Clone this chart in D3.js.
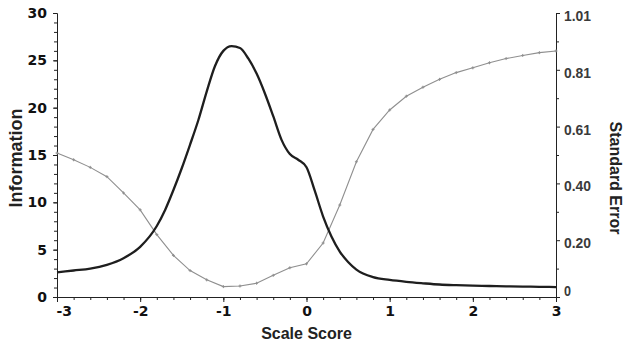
<!DOCTYPE html>
<html>
<head>
<meta charset="utf-8">
<script src="https://cdn.jsdelivr.net/npm/d3@7"></script>
<style>
  body { margin: 0; background: #fff; }
  svg { display: block; }
</style>
</head>
<body>
<div id="chart"></div>
<script>
// test information curve (left axis)
var infoTheta = [-3, -2.8, -2.6, -2.4, -2.2, -2, -1.8, -1.7, -1.6, -1.5, -1.4, -1.3, -1.2, -1.1, -1, -0.9, -0.8, -0.7, -0.6, -0.5, -0.4, -0.3, -0.2, -0.1, 0, 0.1, 0.2, 0.3, 0.4, 0.5, 0.6, 0.8, 1, 1.2, 1.4, 1.6, 1.8, 2, 2.2, 2.4, 2.6, 2.8, 3];
var infoValues = [2.6, 2.8, 3.0, 3.4, 4.1, 5.3, 7.5, 9.2, 11.3, 13.6, 16.1, 18.7, 21.7, 24.4, 26.0, 26.5, 26.3, 25.2, 23.6, 21.5, 19.1, 16.6, 15.1, 14.5, 13.7, 11.2, 8.5, 6.4, 4.8, 3.7, 2.9, 2.1, 1.8, 1.6, 1.45, 1.32, 1.25, 1.2, 1.16, 1.12, 1.1, 1.08, 1.05];

// standard error curve (right axis)
var seTheta = [-3, -2.8, -2.6, -2.4, -2.2, -2, -1.8, -1.6, -1.4, -1.2, -1, -0.8, -0.6, -0.4, -0.2, 0, 0.2, 0.4, 0.6, 0.8, 1, 1.2, 1.4, 1.6, 1.8, 2, 2.2, 2.4, 2.6, 2.8, 3];
var seValues = [0.512, 0.488, 0.461, 0.428, 0.370, 0.310, 0.222, 0.148, 0.094, 0.061, 0.037, 0.039, 0.049, 0.077, 0.104, 0.118, 0.192, 0.327, 0.481, 0.596, 0.665, 0.714, 0.746, 0.774, 0.798, 0.815, 0.833, 0.848, 0.859, 0.869, 0.875];

// ticks
var xTicks = [-3, -2, -1, 0, 1, 2, 3];
var infoTicks = [0, 5, 10, 15, 20, 25, 30];
var seTicks = [0, 0.202, 0.404, 0.606, 0.808, 1.01];
var seMinorTicks = [0.101, 0.303, 0.505, 0.707, 0.909];
var seTickLabels = ["0", "0.20", "0.40", "0.61", "0.81", "1.01"];

var W = 627, H = 344,
    mLeft = 57, mRight = 556, mTop = 13, mBottom = 297;

var svg = d3.select("#chart").append("svg")
    .attr("width", W)
    .attr("height", H);

var x = d3.scaleLinear().domain([-3, 3]).range([mLeft, mRight]);
var yInfo = d3.scaleLinear().domain([0, 30]).range([mBottom, mTop]);
var ySe = d3.scaleLinear().domain([0, 1.01]).range([mBottom, mTop]);

var boldFont = "'DejaVu Sans', sans-serif";
var titleFont = "'Liberation Sans', Arial, sans-serif";

// minor ticks
svg.append("g")
    .attr("transform", "translate(0," + mBottom + ")")
    .call(d3.axisBottom(x).ticks(30).tickSize(3).tickFormat(""))
    .call(function(g){ g.select(".domain").remove(); });
svg.append("g")
    .attr("transform", "translate(" + mLeft + ",0)")
    .call(d3.axisLeft(yInfo).ticks(30).tickSize(3).tickFormat(""))
    .call(function(g){ g.select(".domain").remove(); });
svg.append("g")
    .attr("transform", "translate(" + mRight + ",0)")
    .call(d3.axisRight(ySe).tickValues(seMinorTicks).tickSize(3).tickFormat(""))
    .call(function(g){ g.select(".domain").remove(); });

// major axes
var xAxis = svg.append("g")
    .attr("transform", "translate(0," + mBottom + ")")
    .call(d3.axisBottom(x).tickValues(xTicks).tickSize(5).tickPadding(4).tickFormat(function(d){ return String(d); }));
xAxis.selectAll("text")
    .style("font-family", boldFont)
    .style("font-weight", "bold")
    .style("font-size", "14px")
    .attr("fill", "#111");
xAxis.selectAll(".tick").filter(function(d){ return d == -3; }).select("text")
    .attr("text-anchor", "start")
    .attr("x", -1);

var yAxis = svg.append("g")
    .attr("transform", "translate(" + mLeft + ",0)")
    .call(d3.axisLeft(yInfo).tickValues(infoTicks).tickSize(4).tickPadding(6));
yAxis.selectAll("text")
    .style("font-family", boldFont)
    .style("font-weight", "bold")
    .style("font-size", "14px")
    .attr("fill", "#111");

var y2Axis = svg.append("g")
    .attr("transform", "translate(" + mRight + ",0)")
    .call(d3.axisRight(ySe).tickValues(seTicks).tickSize(4).tickPadding(4)
        .tickFormat(function(d, i){ return seTickLabels[i]; }));
y2Axis.selectAll("text")
    .style("font-family", titleFont)
    .style("font-weight", "bold")
    .style("font-size", "15px")
    .attr("fill", "#3a3a3a")
    .attr("dy", "0.5em")
    .attr("lengthAdjust", "spacingAndGlyphs")
    .attr("textLength", function(d, i){ return i == 0 ? 7 : 27; });
y2Axis.selectAll(".tick").filter(function(d){ return d == 0; }).select("text")
    .attr("dy", "-0.1em");

svg.selectAll(".domain").attr("stroke", "#222");
svg.selectAll(".tick line").attr("stroke", "#222");

// standard error line
var seLine = d3.line()
    .x(function(d, i){ return x(seTheta[i]); })
    .y(function(d){ return ySe(d); });
svg.append("path")
    .datum(seValues)
    .attr("d", seLine)
    .attr("fill", "none")
    .attr("stroke", "#8f8f8f")
    .attr("stroke-width", 1.1);

svg.append("g").selectAll("path")
    .data(seValues)
    .enter().append("path")
    .attr("d", function(d, i){
        var px = x(seTheta[i]), py = ySe(d);
        return "M" + (px - 1.5) + "," + py + "H" + (px + 1.5) + "M" + px + "," + (py - 1.5) + "V" + (py + 1.5);
    })
    .attr("stroke", "#8f8f8f")
    .attr("stroke-width", 1);

// information line
var infoLine = d3.line()
    .x(function(d, i){ return x(infoTheta[i]); })
    .y(function(d){ return yInfo(d); })
    .curve(d3.curveMonotoneX);
svg.append("path")
    .datum(infoValues)
    .attr("d", infoLine)
    .attr("fill", "none")
    .attr("stroke", "#1e1e1e")
    .attr("stroke-width", 2.3);

// titulos
svg.append("text")
    .text("Scale Score")
    .attr("x", (mLeft + mRight) / 2)
    .attr("y", 339)
    .attr("text-anchor", "middle")
    .style("font-family", titleFont)
    .style("font-weight", "bold")
    .style("font-size", "16px")
    .attr("fill", "#222");

svg.append("text")
    .text("Information")
    .attr("transform", "translate(22,158) rotate(-90)")
    .attr("text-anchor", "middle")
    .style("font-family", titleFont)
    .style("font-weight", "bold")
    .style("font-size", "18px")
    .attr("fill", "#222");

svg.append("text")
    .text("Standard Error")
    .attr("transform", "translate(610,178) rotate(90)")
    .attr("text-anchor", "middle")
    .style("font-family", titleFont)
    .style("font-weight", "bold")
    .style("font-size", "16px")
    .attr("fill", "#222");
</script>
</body>
</html>
